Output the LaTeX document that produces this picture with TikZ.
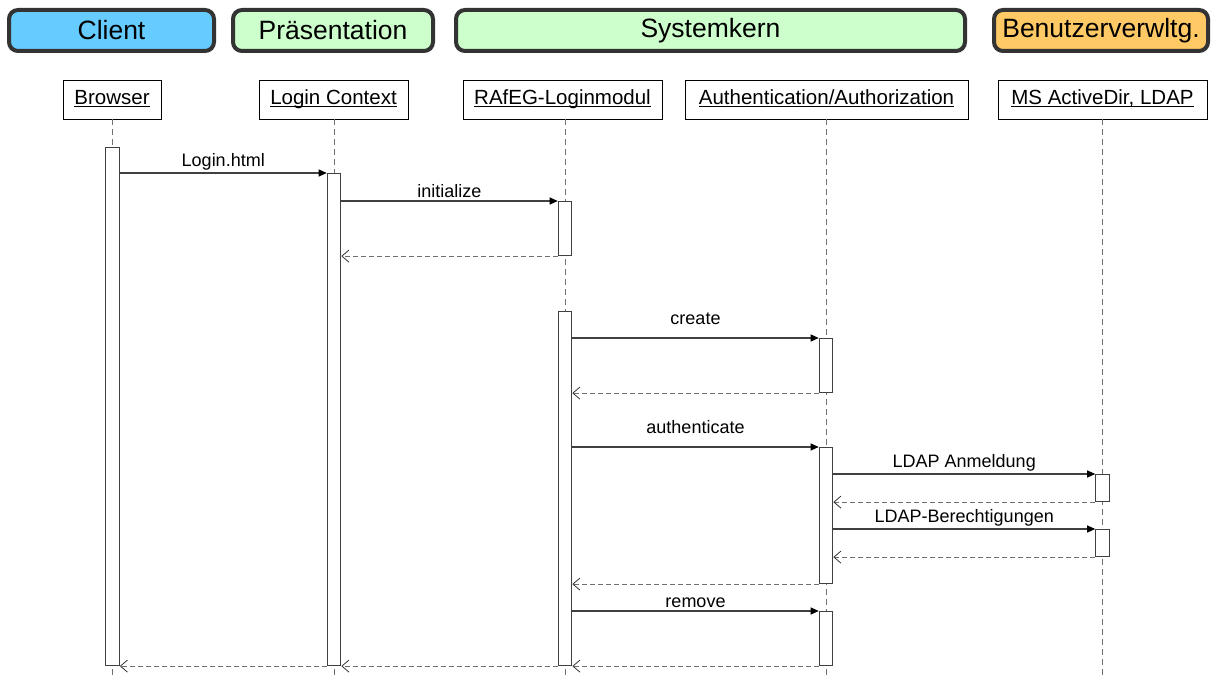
\documentclass[tikz,border=0pt]{standalone}
\usepackage{fontspec}
\setmainfont{Liberation Sans}
\usetikzlibrary{arrows.meta}

\definecolor{clientblue}{HTML}{66CCFF}
\definecolor{layergreen}{HTML}{CCFFCC}
\definecolor{useramber}{HTML}{FFC966}
\definecolor{rimgray}{HTML}{333333}
\definecolor{linegray}{HTML}{404040}
\definecolor{dashgray}{HTML}{707070}

% underlined participant name, rule at a fixed distance below the baseline
\newcommand{\seqpart}[1]{\underline{\smash{#1}}\vphantom{Ag}}

\begin{document}
\begin{tikzpicture}[x=1pt,y=-1pt,
  layer/.style={draw=rimgray, line width=4pt, rounded corners=9pt, inner sep=0pt,
    minimum height=41, font=\fontsize{26.5}{26.5}\selectfont},
  lifehead/.style={draw=black, line width=0.8pt, fill=white, inner sep=0pt,
    minimum height=39, font=\fontsize{20.5}{20.5}\selectfont},
  lifeline/.style={draw=dashgray, line width=0.8pt, dash pattern=on 6pt off 4pt},
  activation/.style={draw=linegray, line width=1.1pt, fill=white, inner sep=0pt,
    minimum width=13.5, anchor=north},
  call/.style={draw=linegray, line width=1.1pt,
    -{Triangle[length=8pt,width=7pt,color=black]}},
  reply/.style={draw=dashgray, line width=0.9pt, dash pattern=on 5pt off 3pt,
    -{Straight Barb[length=7pt,width=12pt,line width=0.8pt,color=black!80]}},
  msg/.style={font=\fontsize{18}{18}\selectfont, inner sep=2.5pt, above}
]
\useasboundingbox (0,0) rectangle (1215,677);

% layer banners
\node[layer, fill=clientblue, minimum width=205] (lClient) at (111.5,30.5) {Client};
\node[layer, fill=layergreen, minimum width=200] (lPres) at (333,30.5) {Präsentation};
\node[layer, fill=layergreen, minimum width=509] (lCore) at (710.5,30.5) {Systemkern};
\node[layer, fill=useramber, minimum width=214] (lUser) at (1101,30.5) {Benutzerverwltg.};

% participant heads
\node[lifehead, minimum width=98]  (pB) at (112,99.5)   {\seqpart{Browser}};
\node[lifehead, minimum width=149] (pL) at (333.5,99.5) {\seqpart{Login Context}};
\node[lifehead, minimum width=199] (pR) at (562.5,99.5) {\seqpart{RAfEG-Loginmodul}};
\node[lifehead, minimum width=283] (pA) at (826.5,99.5) {\seqpart{Authentication/Authorization}};
\node[lifehead, minimum width=209] (pM) at (1102.5,99.5) {\seqpart{MS ActiveDir, LDAP}};

% lifelines
\draw[lifeline] (pB.south -| 112,0) -- (112,677);
\draw[lifeline] (pL.south -| 334,0) -- (334,677);
\draw[lifeline] (pR.south -| 565,0) -- (565,677);
\draw[lifeline] (pA.south -| 826,0) -- (826,677);
\draw[lifeline] (pM.south -| 1102.5,0) -- (1102.5,677);

% activation bars
\node[activation, minimum height=518] (aB)  at (112.5,147) {};
\node[activation, minimum height=492] (aL)  at (334,173) {};
\node[activation, minimum height=54]  (aR1) at (565,201) {};
\node[activation, minimum height=354] (aR2) at (565,311) {};
\node[activation, minimum height=54]  (aA1) at (826,338) {};
\node[activation, minimum height=136] (aA2) at (826,447) {};
\node[activation, minimum height=54]  (aA3) at (826,611) {};
\node[activation, minimum height=27]  (aM1) at (1102.5,474) {};
\node[activation, minimum height=27]  (aM2) at (1102.5,529) {};

% messages
\draw[call] (aB.east |- aL.north) -- node[msg] {Login.html} (aL.north west);
\draw[call] (aL.east |- aR1.north) -- node[msg] {initialize} (aR1.north west);
\draw[reply] (aR1.south west) -- (aL.east |- aR1.south);

\draw[call] (aR2.east |- aA1.north) -- node[msg, yshift=10pt] {create} (aA1.north west);
\draw[reply] (aA1.south west) -- (aR2.east |- aA1.south);

\draw[call] (aR2.east |- aA2.north) -- node[msg, yshift=10pt] {authenticate} (aA2.north west);
\draw[call] (aA2.east |- aM1.north) -- node[msg] {LDAP Anmeldung} (aM1.north west);
\draw[reply] (aM1.south west) -- (aA2.east |- aM1.south);
\draw[call] (aA2.east |- aM2.north) -- node[msg] {LDAP-Berechtigungen} (aM2.north west);
\draw[reply] (aM2.south west) -- (aA2.east |- aM2.south);
\draw[reply] (aA2.south west) -- (aR2.east |- aA2.south);

\draw[call] (aR2.east |- aA3.north) -- node[msg] {remove} (aA3.north west);
\draw[reply] (aA3.south west) -- (aR2.east |- aA3.south);
\draw[reply] (aR2.south west) -- (aL.east |- aR2.south);
\draw[reply] (aL.south west) -- (aB.east |- aL.south);
\end{tikzpicture}
\end{document}
